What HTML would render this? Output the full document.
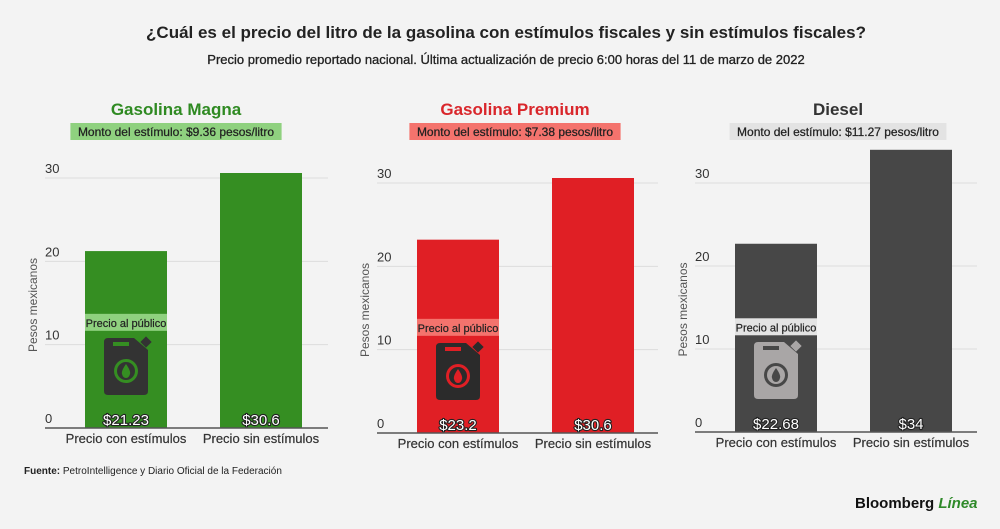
<!DOCTYPE html>
<html><head><meta charset="utf-8">
<style>
body{margin:0;background:#f3f3f3;font-family:"Liberation Sans",Arial,sans-serif;}
svg text{font-family:"Liberation Sans",Arial,sans-serif;}
.val{paint-order:stroke;stroke-linejoin:round;}
</style></head>
<body>
<svg id="c" width="1000" height="524" viewBox="0 0 1000 524">
<rect width="1000" height="524" fill="#f3f3f3"/>
<text x="506" y="38" text-anchor="middle" font-size="17" font-weight="bold" fill="#222">¿Cuál es el precio del litro de la gasolina con estímulos fiscales y sin estímulos fiscales?</text>
<text x="506" y="64" text-anchor="middle" font-size="13" fill="#222" stroke="#222" stroke-width="0.3">Precio promedio reportado nacional. Última actualización de precio 6:00 horas del 11 de marzo de 2022</text>
<text x="24" y="474" font-size="10" font-weight="bold" fill="#222">Fuente: <tspan font-weight="normal">PetroIntelligence y Diario Oficial de la Federación</tspan></text>
<text x="855" y="508" font-size="15" font-weight="bold" fill="#111">Bloomberg <tspan fill="#2f8a2a" font-style="italic">Línea</tspan></text>
</svg>
<script>
const panelTitles=["Gasolina Magna","Gasolina Premium","Diesel"];
const stimulusLabels=["Monto del estímulo: $9.36 pesos/litro","Monto del estímulo: $7.38 pesos/litro","Monto del estímulo: $11.27 pesos/litro"];
const categories=["Precio con estímulos","Precio sin estímulos"];
const magnaValues=[21.23,30.6];
const premiumValues=[23.2,30.6];
const dieselValues=[22.68,34];
const valueLabels=[["$21.23","$30.6"],["$23.2","$30.6"],["$22.68","$34"]];
const yTicks=[0,10,20,30];
const series=[magnaValues,premiumValues,dieselValues];
const colors=["#358e22","#e01f25","#474747"];
const titleColors=["#2f8a22","#d9262b","#333"];
const boxColors=["#8fd17f","#f4736d","#e3e3e3"];
const iconColors=["#333","#2b2b2b","#a9a6a6"];
const layout=[{x0:45,x1:328,base:428,y30:178,tx:176},{x0:377,x1:658,base:433,y30:183,tx:515},{x0:695,x1:977,base:432,y30:183,tx:838}];
const svg=document.getElementById('c');
const NS="http://www.w3.org/2000/svg";
function mk(t,a,p){const e=document.createElementNS(NS,t);for(const k in a)e.setAttribute(k,a[k]);(p||svg).appendChild(e);return e;}
series.forEach((vals,p)=>{
  const L=layout[p];
  const g=mk('g',{});
  
  
  const y=v=>L.base-(v/30)*(L.base-L.y30);
  const xc=i=>L.x0+81+i*135;
  const t=mk('text',{x:L.tx,y:115,'text-anchor':'middle','font-size':17,'font-weight':'bold',fill:titleColors[p]},g);
  t.textContent=panelTitles[p];
  
  
  const bw=stimulusLabels[p].length*5.6+4;
  const sb=mk('rect',{x:L.tx-bw/2,y:123,width:bw,height:17,fill:boxColors[p]},g);
  
  
  const st=mk('text',{x:L.tx,y:136,'text-anchor':'middle','font-size':12,fill:'#222',stroke:'#222','stroke-width':0.25},g);
  st.textContent=stimulusLabels[p];
  
  
  yTicks.forEach(v=>{
    if(v>0){const gl=mk('line',{x1:L.x0,x2:L.x1,y1:y(v),y2:y(v),stroke:'#dcdcdc','stroke-width':1},g);
    
    }
    const tl=mk('text',{x:L.x0,y:y(v)-5,'font-size':13,fill:'#333'},g);
    tl.textContent=v;
    
    
  });
  const yt=mk('text',{x:0,y:0,'font-size':12,fill:'#555','text-anchor':'middle',transform:`translate(${L.x0-8},${(L.base+L.y30)/2+2}) rotate(-90)`},g);
  yt.textContent="Pesos mexicanos";
  
  
  vals.forEach((v,i)=>{
    const b=mk('rect',{x:xc(i)-41,y:y(v),width:82,height:L.base-y(v),fill:colors[p]},g);
    
    
    const vl=mk('text',{x:xc(i),y:L.base-3,'text-anchor':'middle','font-size':15,fill:'#fff',stroke:'#222','stroke-width':2.2,class:'val'},g);
    vl.textContent=valueLabels[p][i];
    
    
    const cl=mk('text',{x:xc(i),y:L.base+15,'text-anchor':'middle','font-size':13,fill:'#333',stroke:'#333','stroke-width':0.2},g);
    cl.textContent=categories[i];
    
    
  });
  const cx=xc(0);
  const pb=mk('rect',{x:cx-41,y:y(13.7),width:82,height:17,fill:boxColors[p]},g);
  
  
  const pt=mk('text',{x:cx,y:y(13.7)+13,'text-anchor':'middle','font-size':11,fill:'#222',stroke:'#222','stroke-width':0.2},g);
  pt.textContent="Precio al público";
  
  
  const iy=L.base-90, ic=iconColors[p], bg=colors[p];
  const ig=mk('g',{transform:`translate(${cx-22},${iy})`},g);
  
  
  mk('path',{d:'M4 0 H30 L44 12 V53 Q44 57 40 57 H4 Q0 57 0 53 V4 Q0 0 4 0 Z',fill:ic},ig);
  mk('rect',{x:38,y:0,width:8,height:8,fill:ic,transform:'rotate(45 42 4)'},ig);
  mk('rect',{x:9,y:4,width:16,height:4,fill:bg},ig);
  mk('circle',{cx:22,cy:33,r:12,fill:bg},ig);
  mk('circle',{cx:22,cy:33,r:9,fill:ic},ig);
  mk('path',{d:'M22 26 Q17 33 18 36 Q19 40 22 40 Q25 40 26 36 Q27 33 22 26 Z',fill:bg},ig);
  const ax=mk('line',{x1:L.x0,x2:L.x1,y1:L.base,y2:L.base,stroke:'#555','stroke-width':1.5},g);
  
  
});
</script>
</body></html>
